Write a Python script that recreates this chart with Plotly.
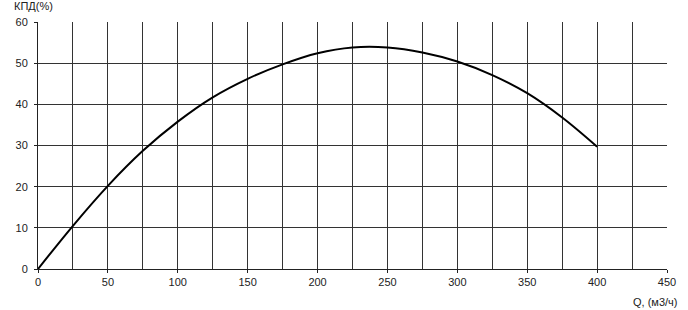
import plotly.graph_objects as go

q = [0, 25, 50, 75, 100, 125, 150, 175, 200, 225, 250, 275, 300, 325, 350, 375, 400]
eff = [0, 10.5, 20.2, 28.7, 35.8, 41.7, 46.2, 49.7, 52.4, 53.8, 53.8, 52.6, 50.4, 47.1, 42.7, 36.8, 29.7]
x_ticks = [0, 50, 100, 150, 200, 250, 300, 350, 400, 450]
y_ticks = [0, 10, 20, 30, 40, 50, 60]

fig = go.Figure()
fig.add_trace(go.Scatter(x=q, y=eff, mode="lines",
                         line=dict(color="black", width=2, shape="spline", smoothing=1.0),
                         hoverinfo="skip"))

font = dict(family="Liberation Sans, Arial, sans-serif", size=11, color="#222")
fig.update_layout(
    width=688, height=310,
    margin=dict(l=38, r=16, t=22, b=41),
    paper_bgcolor="white", plot_bgcolor="white",
    showlegend=False,
    font=font,
    xaxis=dict(range=[0, 450], tickvals=x_ticks, showgrid=True,
               gridcolor="#333", gridwidth=1, showline=True, linecolor="#222",
               linewidth=1, ticks="outside", ticklen=3, tickcolor="#222",
               zeroline=False, minor=dict(dtick=25, showgrid=True, gridcolor="#333", gridwidth=1)),
    yaxis=dict(range=[0, 60], tickvals=y_ticks, showgrid=True,
               gridcolor="#333", gridwidth=1, showline=True, linecolor="#222",
               linewidth=1, ticks="outside", ticklen=3, tickcolor="#222",
               zeroline=False, ticklabelstandoff=4),
    annotations=[
        dict(text="КПД(%)", xref="paper", yref="paper", x=0, y=1, xshift=-26, yshift=8,
             xanchor="left", yanchor="bottom", showarrow=False, font=font),
        dict(text="Q, (м3/ч)", xref="paper", yref="paper", x=1, y=0, xshift=12, yshift=-25,
             xanchor="right", yanchor="top", showarrow=False, font=font),
    ],
)
fig.write_html("out.html")
